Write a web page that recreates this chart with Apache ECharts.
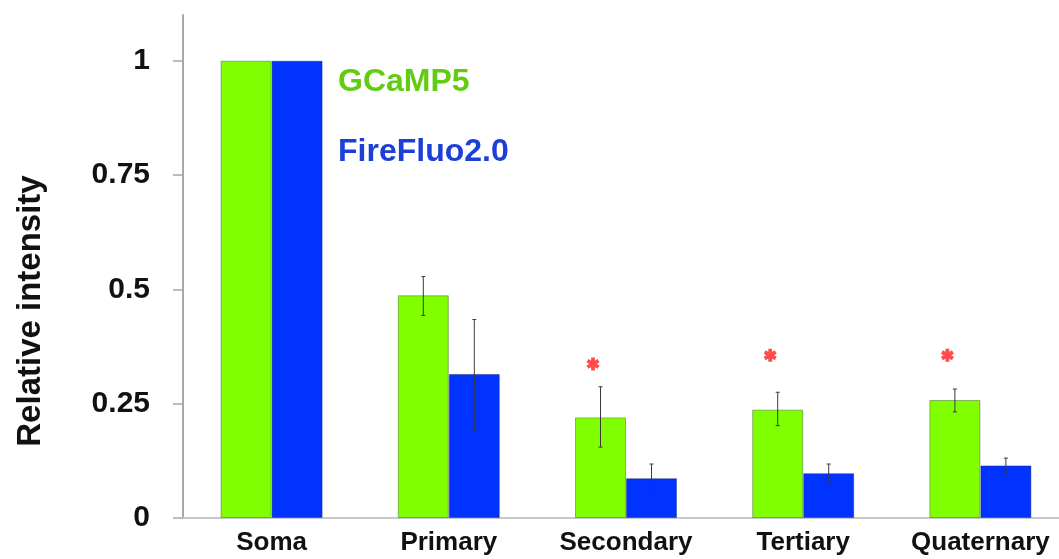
<!DOCTYPE html>
<html>
<head>
<meta charset="utf-8">
<script src="https://cdn.jsdelivr.net/npm/echarts@6/dist/echarts.min.js"></script>
<style>
html,body{margin:0;padding:0;background:#fff;overflow:hidden;}
#chart{width:1070px;height:559px;}
</style>
</head>
<body>
<div id="chart"></div>
<script>
var categories = ['Soma', 'Primary', 'Secondary', 'Tertiary', 'Quaternary'];
var gcamp = [1.0, 0.487, 0.220, 0.237, 0.258];
var firefluo = [1.0, 0.315, 0.087, 0.098, 0.115];
var gcampErrLow = [null, 0.443, 0.155, 0.202, 0.232];
var gcampErrHigh = [null, 0.528, 0.287, 0.275, 0.282];
var firefluoErrLow = [null, 0.192, 0.058, 0.076, 0.100];
var firefluoErrHigh = [null, 0.434, 0.118, 0.118, 0.131];
var starValues = [null, null, 0.337, 0.356, 0.356];
var yTicks = [0, 0.25, 0.5, 0.75, 1];
var seriesNames = ['GCaMP5', 'FireFluo2.0'];
var yTitle = 'Relative intensity';

var FONT = '"Liberation Sans", Arial, Helvetica, sans-serif';
var GREEN = '#7fff00';
var BLUE = '#0033ff';
var BAR_W = 51;

function errData(lo, hi) {
  var out = [];
  for (var i = 0; i < categories.length; i++) {
    if (lo[i] != null) out.push([i, lo[i], hi[i]]);
  }
  return out;
}
function errRender(offset) {
  return function (params, api) {
    var c = api.value(0);
    var p1 = api.coord([c, api.value(1)]);
    var p2 = api.coord([c, api.value(2)]);
    var x = p1[0] + offset;
    var cap = 2;
    var st = { stroke: '#3a3a3a', lineWidth: 1 };
    return {
      type: 'group',
      children: [
        { type: 'line', shape: { x1: x, y1: p1[1], x2: x, y2: p2[1] }, style: st },
        { type: 'line', shape: { x1: x - cap, y1: p1[1], x2: x + cap, y2: p1[1] }, style: st },
        { type: 'line', shape: { x1: x - cap, y1: p2[1], x2: x + cap, y2: p2[1] }, style: st }
      ]
    };
  };
}
var starData = [];
for (var i = 0; i < categories.length; i++) {
  if (starValues[i] != null) starData.push([i, starValues[i]]);
}
var starPath = 'path://M3.5,0L6.5,0L6.5,10L3.5,10Z M8.58,1.2L10.08,3.8L1.42,8.8L-0.08,6.2Z M10.08,6.2L8.58,8.8L-0.08,3.8L1.42,1.2Z';

var chart = echarts.init(document.getElementById('chart'));
chart.setOption({
  animation: false,
  backgroundColor: '#ffffff',
  grid: { left: 183, top: 15, width: 886, height: 503, containLabel: false },
  legend: {
    orient: 'vertical',
    left: 332,
    top: 66,
    padding: 0,
    itemGap: 38,
    itemWidth: 0,
    itemHeight: 0,
    selectedMode: false,
    textStyle: { fontFamily: FONT, fontWeight: 'bold', fontSize: 32 },
    data: [
      { name: seriesNames[0], icon: 'rect', textStyle: { color: '#62cc12' } },
      { name: seriesNames[1], icon: 'rect', textStyle: { color: '#1c3fd8' } }
    ]
  },
  xAxis: {
    type: 'category',
    data: categories,
    axisLine: { lineStyle: { color: '#c8c8c8', width: 2 } },
    axisTick: { show: false },
    axisLabel: { interval: 0, hideOverlap: false, fontFamily: FONT, fontWeight: 'bold', fontSize: 26, color: '#111', margin: 12 },
    splitLine: { show: false }
  },
  yAxis: {
    type: 'value',
    min: 0,
    max: 1.1,
    axisLine: { show: true, lineStyle: { color: '#a8a8a8', width: 2 } },
    axisTick: { show: true, length: 10, lineStyle: { color: '#a8a8a8', width: 1.5 }, customValues: yTicks },
    axisLabel: { fontFamily: FONT, fontWeight: 'bold', fontSize: 30, color: '#111', margin: 33, customValues: yTicks },
    splitLine: { show: false }
  },
  graphic: [{
    type: 'text',
    x: 31,
    y: 311,
    rotation: Math.PI / 2,
    style: {
      text: yTitle,
      font: 'bold 33px ' + FONT,
      fill: '#111',
      textAlign: 'center',
      textVerticalAlign: 'middle'
    }
  }],
  series: [
    {
      name: seriesNames[0], type: 'bar', data: gcamp, barWidth: BAR_W, barGap: '0%',
      itemStyle: { color: GREEN, borderColor: 'rgba(60,90,40,0.45)', borderWidth: 1 }
    },
    {
      name: seriesNames[1], type: 'bar', data: firefluo, barWidth: BAR_W, barGap: '0%',
      itemStyle: { color: BLUE, borderColor: 'rgba(20,30,80,0.4)', borderWidth: 1 }
    },
    { type: 'custom', renderItem: errRender(-BAR_W / 2), data: errData(gcampErrLow, gcampErrHigh), z: 5, encode: { x: 0, y: [1, 2] } },
    { type: 'custom', renderItem: errRender(BAR_W / 2), data: errData(firefluoErrLow, firefluoErrHigh), z: 5, encode: { x: 0, y: [1, 2] } },
    {
      type: 'scatter', data: starData, symbol: starPath, symbolSize: 13,
      symbolOffset: [-33, 0], itemStyle: { color: '#ff2020' }, z: 6
    }
  ]
});
</script>
</body>
</html>
